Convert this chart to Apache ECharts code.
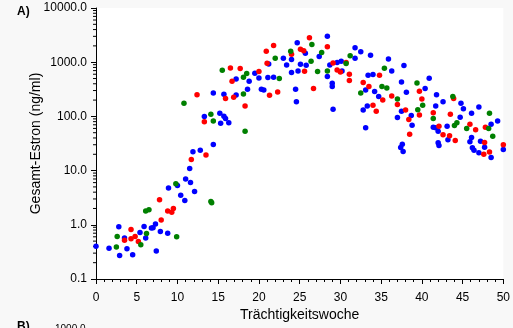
<!DOCTYPE html>
<html>
<head>
<meta charset="utf-8">
<script src="https://cdn.jsdelivr.net/npm/echarts@6/dist/echarts.min.js"></script>
<style>
  html, body { margin: 0; padding: 0; background: #f8f8f8; }
</style>
</head>
<body>
<div id="chart" style="width: 513px;height:328px;"></div>
<script>
// [Trächtigkeitswoche, Gesamt-Estron ng/ml]
var blueData = [
  [15.7,255],[14.4,270],[13.3,100],[15.2,114],[15.7,101],[15.9,91],[15.3,75],[16.3,76],
  [17.2,490],[18.8,445],[17.2,248],[18.6,316],[19.5,625],[20.0,512],[20.3,316],[20.6,307],
  [21.2,930],[21.1,521],[21.8,527],[23.0,1186],[23.4,891],[24.0,1122],[24.7,2275],[24.0,644],
  [24.8,690],[25.1,918],[25.7,1468],[25.8,880],[24.5,316],[24.6,187],[27.4,1276],[28.4,3027],
  [28.4,543],[28.7,891],[29.6,986],[30.1,1045],[30.2,690],[31.8,1840],[32.5,1552],[31.8,1186],
  [29.0,408],[29.0,355],[29.1,135],[33.4,574],[33.1,307],[32.8,131],[33.1,62],[33.3,155],
  [33.7,1349],[35.9,1151],[37.8,869],[36.3,690],[34.0,591],[34.2,287],[34.7,232],[37.5,432],
  [38.1,278],[40.4,326],[40.9,506],[41.8,252],[42.6,187],[41.7,155],[37.5,124],[38.7,104],
  [38.8,69],[37.0,95],[44.8,174],[45.1,139],[47.0,149],[46.1,114],[44.7,96],[41.4,63],
  [41.7,62],[42.0,53],[43.1,66],[48.5,72],[49.3,82],[46.1,41],[37.6,30.7],[37.4,26.7],
  [37.7,22.5],[43.2,37],[42.0,32.6],[42.1,29],[45.9,34],[46.2,26.3],[46.4,23.8],[47.0,21.3],
  [47.2,34.9],[47.7,27],[48.5,17.4],[50.0,24.5],
  [14.4,30.3],[12.8,23.8],[11.9,22.2],[11.5,10.9],[11.0,7.0],[11.6,6.0],[10.0,5.3],[12.1,4.1],
  [8.9,4.8],[10.4,3.5],[10.9,2.8],[2.8,0.92],[5.9,0.93],[7.3,1.03],[7.0,0.88],[6.8,0.87],
  [5.4,0.72],[7.9,0.75],[8.8,0.70],[6.1,0.57],[3.5,0.57],[0.0,0.40],[1.6,0.37],[3.8,0.36],
  [2.9,0.27],[4.5,0.28],[7.4,0.33]
];
var redData = [
  [16.5,784],[17.7,764],[15.9,213],[12.4,252],[13.3,80],[16.7,445],[16.9,225],[18.3,155],
  [20.0,673],[20.9,1600],[21.8,2037],[21.0,957],[21.3,245],[22.3,282],[24.0,1406],[25.1,1742],
  [25.5,1619],[25.6,681],[26.2,2820],[26.7,326],[28.4,1919],[29.1,971],[29.6,719],[30.0,661],
  [30.7,986],[31.1,600],[31.1,458],[32.8,421],[34.8,574],[33.5,355],[35.2,200],[36.3,238],
  [39.7,290],[40.0,209],[41.4,117],[39.7,106],[37.0,165],[38.0,131],[38.4,88],[34.0,160],
  [34.4,125],[38.5,47],[43.9,215],[43.5,110],[42.1,66],[45.9,72],[46.6,57],[47.8,63],
  [42.6,46],[43.4,44],[44.1,36],[47.7,33],[47.6,20],[48.3,22],[50.0,30],
  [13.5,19.5],[11.7,16],[7.8,2.9],[8.8,1.8],[9.3,1.7],[9.5,2.0],[8.0,1.22],[4.3,0.82],
  [4.8,0.61],[4.3,0.55],[3.5,0.52],[5.2,0.49]
];
var greenData = [
  [15.5,711],[10.8,174],[14.1,109],[14.4,82],[18.1,527],[18.5,618],[18.1,259],[22.0,1186],
  [22.5,499],[23.9,1600],[26.4,1045],[26.5,2128],[27.2,673],[27.7,1514],[28.4,690],[30.7,946],
  [31.2,1309],[32.5,270],[35.4,774],[35.1,355],[35.7,334],[37.0,209],[39.4,414],[40.1,160],
  [39.5,133],[41.4,91],[43.8,232],[48.3,114],[44.0,68],[44.3,76],[45.5,60],[48.2,60],
  [48.7,43],[18.3,53],
  [9.8,5.7],[14.1,2.7],[14.2,2.55],[6.1,1.8],[6.5,1.9],[6.2,0.69],[9.9,0.60],[2.6,0.61],
  [5.5,0.43],[2.5,0.39]
];
// log-Nebenstriche 2..9 je Dekade
var decades = [0.1, 1, 10, 100, 1000];
var minorSteps = [2, 3, 4, 5, 6, 7, 8, 9];

var minorTicks = [];
decades.forEach(function (d) {
  minorSteps.forEach(function (m) {
    minorTicks.push([0, +(d * m).toPrecision(3)]);
  });
});

var fontFamily = '"Liberation Sans", Arial, sans-serif';
var chart = echarts.init(document.getElementById('chart'));

var dot = function (name, color, data) {
  return {
    name: name,
    type: 'scatter',
    symbol: 'circle',
    symbolSize: 5.5,
    itemStyle: { color: color, opacity: 1 },
    data: data
  };
};

var option = {
  backgroundColor: '#f8f8f8',
  animation: false,
  textStyle: { fontFamily: fontFamily },
  grid: {
    left: 96,
    right: 7,
    top: 8,
    bottom: 49,
    show: true,
    backgroundColor: '#ffffff',
    borderWidth: 0
  },
  graphic: [
    { type: 'text', left: 17, top: 6, style: { text: 'A)', font: 'bold 12px ' + fontFamily, fill: '#000' } },
    { type: 'text', left: 17, top: 321, style: { text: 'B)', font: 'bold 12px ' + fontFamily, fill: '#000' } },
    { type: 'text', left: 55, top: 324, style: { text: '1000.0', font: '10px ' + fontFamily, fill: '#000' } }
  ],
  xAxis: {
    type: 'value',
    min: 0,
    max: 50,
    interval: 5,
    name: 'Trächtigkeitswoche',
    nameLocation: 'middle',
    nameGap: 29,
    nameMoveOverlap: false,
    nameTextStyle: { color: '#000', fontSize: 14 },
    axisLine: { show: true, lineStyle: { color: '#000', width: 1 } },
    axisTick: { show: true, length: 5, lineStyle: { color: '#000' } },
    minorTick: { show: true, splitNumber: 5, length: 3, lineStyle: { color: '#000' } },
    axisLabel: { color: '#000', fontSize: 12, margin: 13 },
    splitLine: { show: false }
  },
  yAxis: {
    type: 'log',
    logBase: 10,
    min: 0.1,
    max: 10000,
    name: 'Gesamt-Estron (ng/ml)',
    nameLocation: 'middle',
    nameGap: 53,
    nameMoveOverlap: false,
    nameTextStyle: { color: '#000', fontSize: 14 },
    axisLine: { show: true, lineStyle: { color: '#000', width: 1 } },
    axisTick: { show: true, length: 5, lineStyle: { color: '#000' } },
    axisLabel: {
      color: '#000',
      fontSize: 12,
      margin: 9,
      formatter: function (v) { return Number(v).toFixed(1); }
    },
    splitLine: { show: false }
  },
  series: [
    {
      type: 'custom',
      silent: true,
      clip: false,
      z: 1,
      renderItem: function (params, api) {
        var p = api.coord([api.value(0), api.value(1)]);
        return {
          type: 'line',
          shape: { x1: p[0] - 3, y1: p[1], x2: p[0], y2: p[1] },
          style: { stroke: '#000', lineWidth: 1 }
        };
      },
      data: minorTicks
    },
    dot('blau', '#0000ff', blueData),
    dot('rot', '#ff0000', redData),
    dot('grün', '#008000', greenData)
  ]
};

chart.setOption(option);
</script>
</body>
</html>
